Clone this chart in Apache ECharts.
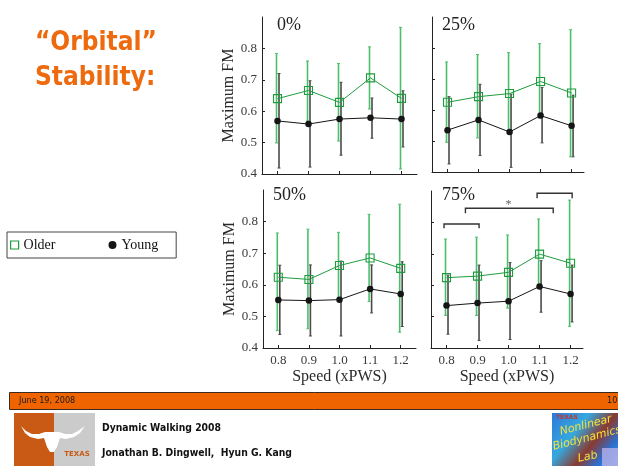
<!DOCTYPE html>
<html>
<head>
<meta charset="utf-8">
<script src="https://cdn.jsdelivr.net/npm/echarts@6/dist/echarts.min.js"></script>
<style>html,body{margin:0;padding:0;background:#fff;}#c{width:618px;height:466px;}</style>
</head>
<body>
<div id="c"></div>
<script>
// ---------- data ----------
const speeds = [0.8, 0.9, 1.0, 1.1, 1.2];
const speedTicks = [0.8, 0.9, 1.0, 1.1, 1.2];
const fmTicks = [0.4, 0.5, 0.6, 0.7, 0.8];
const panelNames = ['0%', '25%', '50%', '75%'];

// 0% perturbation
const older0 = [0.640, 0.666, 0.628, 0.706, 0.641];
const older0Hi = [0.784, 0.760, 0.752, 0.805, 0.867];
const older0Lo = [0.499, 0.569, 0.505, 0.607, 0.416];
const young0 = [0.569, 0.559, 0.575, 0.579, 0.575];
const young0Hi = [0.720, 0.697, 0.692, 0.642, 0.665];
const young0Lo = [0.419, 0.422, 0.460, 0.514, 0.486];
// 25%
const older25 = [0.625, 0.643, 0.653, 0.692, 0.655];
const older25Hi = [0.755, 0.779, 0.785, 0.814, 0.859];
const older25Lo = [0.496, 0.510, 0.531, 0.574, 0.449];
const young25 = [0.535, 0.568, 0.529, 0.582, 0.549];
const young25Hi = [0.643, 0.683, 0.651, 0.673, 0.648];
const young25Lo = [0.426, 0.453, 0.415, 0.494, 0.449];
// 50%
const older50 = [0.624, 0.617, 0.661, 0.685, 0.652];
const older50Hi = [0.764, 0.776, 0.766, 0.823, 0.855];
const older50Lo = [0.455, 0.461, 0.555, 0.547, 0.450];
const young50 = [0.552, 0.550, 0.553, 0.587, 0.571];
const young50Hi = [0.662, 0.663, 0.675, 0.663, 0.673];
const young50Lo = [0.443, 0.438, 0.438, 0.511, 0.468];
// 75%
const older75 = [0.624, 0.629, 0.641, 0.699, 0.670];
const older75Hi = [0.747, 0.753, 0.760, 0.811, 0.871];
const older75Lo = [0.504, 0.504, 0.527, 0.590, 0.469];
const young75 = [0.535, 0.543, 0.549, 0.596, 0.572];
const young75Hi = [0.632, 0.664, 0.672, 0.678, 0.664];
const young75Lo = [0.444, 0.424, 0.427, 0.514, 0.483];

// significance brackets in 75% panel
const bracketsStart = [0.792, 0.861, 1.092];
const bracketsEnd = [0.905, 1.144, 1.205];
const bracketsTop = [0.795, 0.845, 0.893];
const bracketsDrop = [0.781, 0.829, 0.877];
const starPos = [1.0, 0.856];

// ---------- build ----------
const olderM = [older0, older25, older50, older75];
const olderH = [older0Hi, older25Hi, older50Hi, older75Hi];
const olderL = [older0Lo, older25Lo, older50Lo, older75Lo];
const youngM = [young0, young25, young50, young75];
const youngH = [young0Hi, young25Hi, young50Hi, young75Hi];
const youngL = [young0Lo, young25Lo, young50Lo, young75Lo];

const GREEN = '#1f9c3e';
const GREEN_BAR = '#4cbf6a';
const BLACK = '#151515';
const BLACK_BAR = '#4a4a4a';
const SERIF = "'Liberation Serif', 'DejaVu Serif', serif";

const grids = [
  {left: 262, top: 17, width: 155, height: 157},
  {left: 432, top: 17, width: 152, height: 155},
  {left: 263, top: 190, width: 153, height: 158},
  {left: 431, top: 191, width: 152, height: 157}
];
const xMax = [1.25, 1.24, 1.25, 1.24];

const xAxes = grids.map((g, i) => ({
  type: 'value', gridIndex: i, min: 0.75, max: xMax[i],
  axisLine: {onZero: false, lineStyle: {color: '#222', width: 1}},
  axisTick: {inside: true, length: 3, customValues: speedTicks, lineStyle: {color: '#222'}},
  axisLabel: {show: i >= 2, customValues: speedTicks, formatter: v => v.toFixed(1),
    fontFamily: SERIF, fontSize: 13, color: '#3a3a3a', margin: 6},
  splitLine: {show: false},
  name: i >= 2 ? 'Speed (xPWS)' : '', nameLocation: 'middle', nameGap: 21,
  nameTextStyle: {fontFamily: SERIF, fontSize: 16, color: '#2a2a2a'}
}));
const yAxes = grids.map((g, i) => ({
  type: 'value', gridIndex: i, min: 0.4, max: 0.9,
  axisLine: {onZero: false, lineStyle: {color: '#222', width: 1}},
  axisTick: {inside: true, length: 3, customValues: fmTicks, lineStyle: {color: '#222'}},
  axisLabel: {show: i % 2 === 0, customValues: fmTicks, formatter: v => v.toFixed(1),
    fontFamily: SERIF, fontSize: 13, color: '#3a3a3a', margin: 5},
  splitLine: {show: false},
  name: i % 2 === 0 ? 'Maximum FM' : '', nameLocation: 'middle', nameGap: 25, nameRotate: 90,
  nameTextStyle: {fontFamily: SERIF, fontSize: 16, color: '#2a2a2a'}
}));

function errRender(offset, color, width) {
  return function (params, api) {
    const x = api.value(0), lo = api.value(1), hi = api.value(2);
    const pHi = api.coord([x, hi]);
    const pLo = api.coord([x, lo]);
    const px = pHi[0] + offset;
    return {type: 'group', children: [
      {type: 'line', shape: {x1: px, y1: pHi[1], x2: px, y2: pLo[1]}, style: {stroke: color, lineWidth: width}},
      {type: 'line', shape: {x1: px - 1.5, y1: pHi[1], x2: px + 1.5, y2: pHi[1]}, style: {stroke: color, lineWidth: 1}},
      {type: 'line', shape: {x1: px - 1.5, y1: pLo[1], x2: px + 1.5, y2: pLo[1]}, style: {stroke: color, lineWidth: 1}}
    ]};
  };
}

const series = [];
for (let i = 0; i < 4; i++) {
  series.push({
    type: 'custom', name: 'Young', xAxisIndex: i, yAxisIndex: i, z: 1,
    renderItem: errRender(1.5, BLACK_BAR, 1.6),
    data: speeds.map((s, k) => [s, youngL[i][k], youngH[i][k]])
  });
  series.push({
    type: 'custom', name: 'Older', xAxisIndex: i, yAxisIndex: i, z: 1,
    renderItem: errRender(-1, GREEN_BAR, 1.6),
    data: speeds.map((s, k) => [s, olderL[i][k], olderH[i][k]])
  });
  series.push({
    type: 'line', name: 'Older', xAxisIndex: i, yAxisIndex: i, z: 3,
    data: speeds.map((s, k) => [s, olderM[i][k]]),
    symbol: 'rect', symbolSize: 8, showSymbol: true,
    lineStyle: {color: GREEN, width: 1},
    itemStyle: {color: 'rgba(255,255,255,0)', borderColor: GREEN, borderWidth: 1.1},
    emphasis: {disabled: true}
  });
  series.push({
    type: 'line', name: 'Young', xAxisIndex: i, yAxisIndex: i, z: 3,
    data: speeds.map((s, k) => [s, youngM[i][k]]),
    symbol: 'circle', symbolSize: 6.5, showSymbol: true,
    lineStyle: {color: BLACK, width: 1},
    itemStyle: {color: BLACK},
    emphasis: {disabled: true}
  });
}
// brackets
series.push({
  type: 'custom', xAxisIndex: 3, yAxisIndex: 3, z: 4,
  renderItem: function (params, api) {
    const a = api.coord([api.value(0), api.value(2)]);
    const b = api.coord([api.value(1), api.value(2)]);
    const d = api.coord([api.value(0), api.value(3)]);
    return {type: 'polyline', shape: {points: [[a[0], d[1]], [a[0], a[1]], [b[0], b[1]], [b[0], d[1]]]},
      style: {stroke: '#333', lineWidth: 1.4, fill: null}};
  },
  data: bracketsStart.map((s, k) => [s, bracketsEnd[k], bracketsTop[k], bracketsDrop[k]])
});
series.push({
  type: 'scatter', xAxisIndex: 3, yAxisIndex: 3, z: 4, symbolSize: 0,
  data: [starPos],
  label: {show: true, position: 'inside', formatter: '*', fontFamily: SERIF, fontSize: 12, color: '#333'}
});

const panelTitlePos = [[277, 25], [442, 25], [273, 195], [442, 195]];
const graphic = [];
panelNames.forEach((n, i) => {
  graphic.push({type: 'text', x: panelTitlePos[i][0], y: panelTitlePos[i][1],
    style: {text: n, font: "18px 'Liberation Serif', serif", fill: '#222', verticalAlign: 'middle'}});
});
// slide title
const TITLE_FONT = "bold 26px 'DejaVu Sans Condensed', 'Liberation Sans', sans-serif";
graphic.push({type: 'text', x: 35, y: 43, style: {text: '“Orbital”', font: TITLE_FONT, fill: '#ee6a0e', verticalAlign: 'middle'}});
graphic.push({type: 'text', x: 35, y: 78, style: {text: 'Stability:', font: TITLE_FONT, fill: '#ee6a0e', verticalAlign: 'middle'}});
// footer bar
graphic.push({type: 'rect', shape: {x: 9.5, y: 392.5, width: 620, height: 17}, style: {fill: '#f06400', stroke: '#3a2a20', lineWidth: 1}});
const SMALL_FONT = "9px 'DejaVu Sans Condensed', 'Liberation Sans Narrow', 'Liberation Sans', sans-serif";
graphic.push({type: 'text', x: 19, y: 401, style: {text: 'June 19, 2008', font: SMALL_FONT, fill: '#1a1a1a', verticalAlign: 'middle'}});
graphic.push({type: 'text', x: 607, y: 401, style: {text: '10', font: SMALL_FONT, fill: '#1a1a1a', verticalAlign: 'middle'}});
// Texas logo
graphic.push({type: 'rect', shape: {x: 14, y: 413, width: 40, height: 53}, style: {fill: '#c85a16'}});
graphic.push({type: 'rect', shape: {x: 54, y: 413, width: 41, height: 53}, style: {fill: '#cbcbcb'}});
graphic.push({type: 'polygon', shape: {points: [
  [21, 426], [26, 431], [32, 434], [39, 434], [45, 432], [59, 432], [65, 434], [72, 434], [78, 431], [85, 426],
  [80, 433], [74, 437], [66, 439], [60, 438], [57, 447], [54, 452], [50, 452], [47, 447], [44, 438],
  [38, 439], [30, 437], [25, 433]
]}, style: {fill: '#ffffff'}});
graphic.push({type: 'text', x: 77, y: 454, style: {text: 'TEXAS', font: "bold 7px 'DejaVu Sans', sans-serif", fill: '#c85a16', align: 'center', verticalAlign: 'middle'}});
// footer texts
const FOOT_FONT = "bold 10.3px 'DejaVu Sans Condensed', 'Liberation Sans', sans-serif";
graphic.push({type: 'text', x: 102, y: 428, style: {text: 'Dynamic Walking 2008', font: FOOT_FONT, fill: '#111', verticalAlign: 'middle'}});
graphic.push({type: 'text', x: 102, y: 453, style: {text: 'Jonathan B. Dingwell,  Hyun G. Kang', font: FOOT_FONT, fill: '#111', verticalAlign: 'middle'}});
// lab logo
graphic.push({type: 'rect', shape: {x: 552, y: 413, width: 66, height: 53},
  style: {fill: new echarts.graphic.LinearGradient(0, 0, 1, 1, [
    {offset: 0, color: '#2f78d8'}, {offset: 0.35, color: '#35a8e0'}, {offset: 0.6, color: '#8a3a30'}, {offset: 0.8, color: '#2c6fd0'}, {offset: 1, color: '#4aa0e8'}])}});
graphic.push({type: 'text', x: 556, y: 417, style: {text: 'TEXAS', font: "bold 6px 'DejaVu Sans', sans-serif", fill: '#c0392b', verticalAlign: 'middle'}});
graphic.push({type: 'text', x: 560, y: 432, rotation: 0.25, style: {text: 'Nonlinear', font: "italic 11px 'DejaVu Sans', sans-serif", fill: '#f5e23a', verticalAlign: 'middle'}});
graphic.push({type: 'text', x: 553, y: 447, rotation: 0.25, style: {text: 'Biodynamics', font: "italic 11px 'DejaVu Sans', sans-serif", fill: '#f5e23a', verticalAlign: 'middle'}});
graphic.push({type: 'text', x: 578, y: 459, rotation: 0.2, style: {text: 'Lab', font: "italic 11px 'DejaVu Sans', sans-serif", fill: '#f5e23a', verticalAlign: 'middle'}});
graphic.push({type: 'rect', shape: {x: 602, y: 448, width: 16, height: 18}, style: {fill: '#b8b0e8', opacity: 0.8}});

const option = {
  animation: false,
  backgroundColor: '#ffffff',
  grid: grids,
  xAxis: xAxes,
  yAxis: yAxes,
  legend: {
    left: 7, top: 232, orient: 'horizontal',
    data: [
      {name: 'Older', icon: 'rect', itemStyle: {color: '#ffffff', borderColor: GREEN, borderWidth: 1.2}},
      {name: 'Young', icon: 'circle', itemStyle: {color: BLACK}}
    ],
    itemWidth: 8, itemHeight: 8, itemGap: 53,
    borderColor: '#444', borderWidth: 1, borderRadius: 0,
    padding: [6, 18, 6, 3],
    textStyle: {fontFamily: SERIF, fontSize: 14, color: '#111'},
    selectedMode: false
  },
  series: series,
  graphic: graphic
};
const chart = echarts.init(document.getElementById('c'), null, {renderer: 'canvas'});
chart.setOption(option);
</script>
</body>
</html>
